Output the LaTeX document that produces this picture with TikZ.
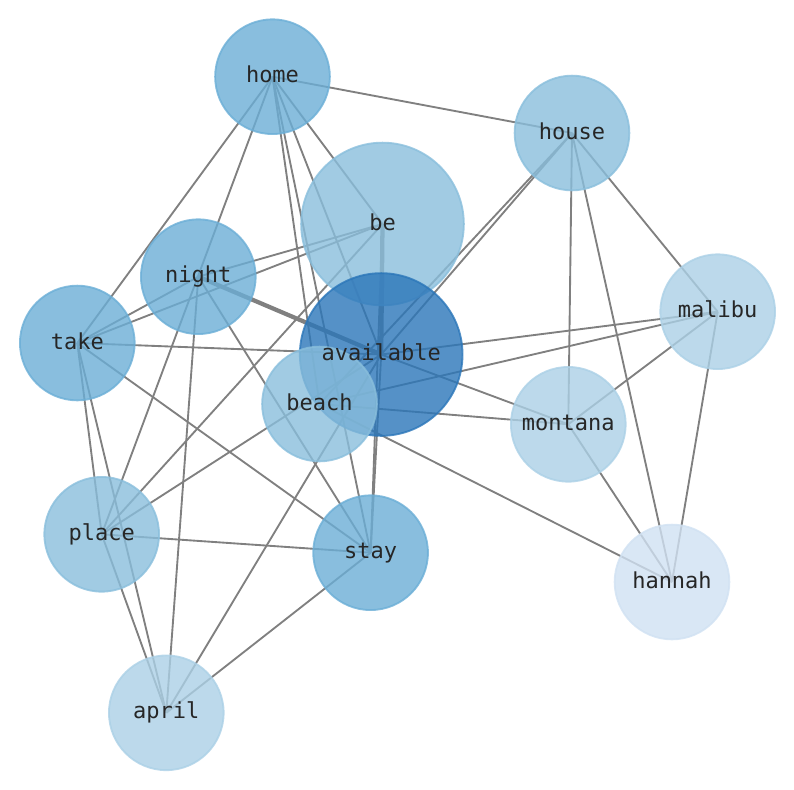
\documentclass[tikz,border=0pt]{standalone}
\usepackage{fontspec}
\setmonofont{DejaVu Sans Mono}
\usetikzlibrary{backgrounds}

\definecolor{blueD}{HTML}{2B76B9}
\definecolor{blueM}{HTML}{6BAED6}
\definecolor{blueL}{HTML}{89BEDC}
\definecolor{blueXL}{HTML}{ABD0E6}
\definecolor{bluePale}{HTML}{D0E1F2}

\begin{document}
\begin{tikzpicture}[x=0.75pt, y=-0.75pt,
  word/.style={circle, draw=#1, fill=#1, opacity=0.8, line width=1.4pt, inner sep=0pt},
  link/.style={draw=black!50, line width=1.4pt},
  heavylink/.style={draw=black!50, line width=3.2pt},
  lbl/.style={font=\ttfamily\fontsize{16.5}{20}\selectfont, text=black!85,
    text height=9pt, text depth=0pt, inner sep=0pt}]
  \useasboundingbox (0,0) rectangle (794,790);

  % words, drawn in this order (available over be, beach over available)
  \foreach \n/\x/\y/\c/\d in {home/272.5/76.7/blueM/86pt, house/572/133/blueL/86pt,
      be/382.5/224/blueL/122pt, night/198.3/276.7/blueM/86pt, take/77.3/343/blueM/86pt,
      available/381.2/354.5/blueD/122pt, beach/319.5/404/blueL/86pt,
      malibu/717.7/311.7/blueXL/86pt, montana/568.3/424.3/blueXL/86pt,
      place/101.7/534.3/blueL/86pt, stay/370.6/552.7/blueM/86pt,
      hannah/672/582/bluePale/86pt, april/166.3/712.8/blueXL/86pt} {
    \node[word=\c, minimum size=\d] (\n) at (\x,\y) {};
  }

  % co-occurrence links, behind the words
  \begin{scope}[on background layer]
    \foreach \a/\b in {home/house, home/take, home/place, home/be, home/available,
        home/beach, home/stay, house/available, house/beach, house/montana,
        house/hannah, house/malibu, be/night, be/take, be/place,
        be/stay, night/take, night/april, night/stay,
        available/montana, take/available, take/stay, take/place, take/april,
        available/malibu, available/stay, available/place, available/april,
        beach/malibu, beach/montana, beach/hannah, malibu/montana,
        malibu/hannah, montana/hannah, place/stay, place/april, stay/april} {
      \draw[link] (\a.center) -- (\b.center);
    }
    % the two strongest links
    \draw[heavylink] (night.center) -- (available.center);
    \draw[heavylink] (be.center) -- (available.center);
  \end{scope}

  % labels on top of everything
  \foreach \n in {home, house, be, night, take, available, beach, malibu,
      montana, place, stay, hannah, april} {
    \node[lbl] at (\n) {\n};
  }
\end{tikzpicture}
\end{document}
